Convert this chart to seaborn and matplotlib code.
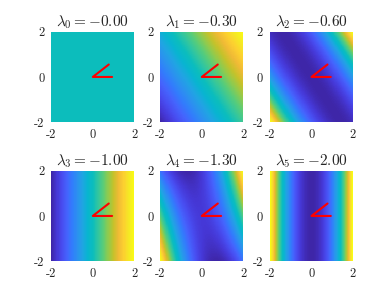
import numpy as np
import pandas as pd
import matplotlib.pyplot as plt
import seaborn as sns
from matplotlib.colors import LinearSegmentedColormap
plt.switch_backend('Agg')

# eigenvalues and the powers of the two linear eigenfunctions in each panel
lambdas = [-0.00, -0.30, -0.60, -1.00, -1.30, -2.00]
pow_w1 = [0, 1, 2, 0, 1, 0]
pow_w2 = [0, 0, 0, 1, 1, 2]

# left eigenvectors
w1 = [0.814, 0.581]
w2 = [1.0, 0.0]
line_x = [0.77, 0.0, 0.93]
line_y = [0.55, 0.0, 0.0]

ticks = [-2, 0, 2]
tick_labels = ['-2', '0', '2']

# parula colormap (subsampled from the 64 entry table)
parula_colors = [
    (0.2422, 0.1504, 0.6603), (0.2706, 0.2147, 0.8364),
    (0.2813, 0.3006, 0.9414), (0.2699, 0.3892, 0.9906),
    (0.1963, 0.4847, 0.9892), (0.1687, 0.5703, 0.9359),
    (0.1248, 0.6459, 0.8883), (0.0297, 0.7082, 0.8163),
    (0.0433, 0.7411, 0.7394), (0.1938, 0.7758, 0.6251),
    (0.3406, 0.8008, 0.4789), (0.5616, 0.7942, 0.3045),
    (0.7738, 0.7598, 0.1646), (0.9393, 0.7288, 0.2100),
    (0.9892, 0.8136, 0.1885), (0.9597, 0.9135, 0.1423),
    (0.9769, 0.9839, 0.0805)]
parula = LinearSegmentedColormap.from_list('parula', parula_colors)

sns.set_style('white')
plt.rcParams['mathtext.fontset'] = 'cm'

n = 161
xs = np.linspace(-2, 2, n)
ys = np.linspace(2, -2, n)
X, Y = np.meshgrid(xs, ys)
u = w1[0] * X + w1[1] * Y
v = w2[0] * X + w2[1] * Y

fig = plt.figure(figsize=(3.9, 2.94), dpi=100)
W, H = 390, 294
col_left = [51.3, 160.3, 270.0]
row_top = [31.7, 170.7]
aw, ah = 83.0, 90.5

for k, lam in enumerate(lambdas):
    r, c = divmod(k, 3)
    pos = [col_left[c] / W, 1 - (row_top[r] + ah) / H, aw / W, ah / H]
    ax = fig.add_axes(pos)
    phi = u ** pow_w1[k] * v ** pow_w2[k]
    df = pd.DataFrame(phi, index=ys, columns=xs)
    lo, hi = phi.min(), phi.max()
    if hi - lo < 1e-9:
        lo, hi = lo - 1, hi + 1
    sns.heatmap(df, ax=ax, cmap=parula, vmin=lo, vmax=hi, cbar=False,
                xticklabels=False, yticklabels=False, rasterized=True)
    ax.set_xlabel('')
    ax.set_ylabel('')

    # overlay axes in data units for the eigenvector lines and ticks
    ax2 = fig.add_axes(pos)
    ax2.patch.set_alpha(0)
    sns.lineplot(x=line_x, y=line_y, sort=False, estimator=None,
                 color='red', linewidth=1.5, ax=ax2)
    ax2.set_xlim(-2, 2)
    ax2.set_ylim(-2, 2)
    ax2.set_xticks(ticks)
    ax2.set_yticks(ticks)
    ax2.set_xticklabels(tick_labels, fontfamily='cmr10', fontsize=9)
    ax2.set_yticklabels(tick_labels, fontfamily='cmr10', fontsize=9)
    ax2.tick_params(length=0, pad=5)
    for s in ax2.spines.values():
        s.set_visible(False)
    ax2.set_title(r'$\lambda_{%d} = %.2f$' % (k, lam), fontsize=11, pad=4)

fig.savefig('out.png', dpi=100)
